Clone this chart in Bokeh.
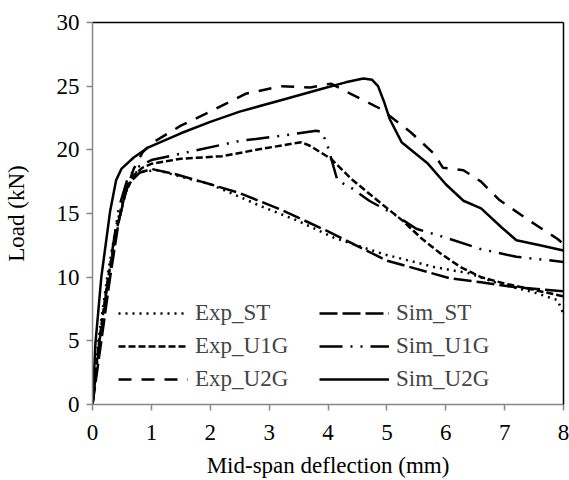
from bokeh.plotting import figure
from bokeh.models import Legend, LegendItem, LinearAxis, FixedTicker, Range1d
from bokeh.embed import file_html
from bokeh.resources import INLINE

# ---- data ----
exp_st_x = [0, 0.1, 0.25, 0.4, 0.55, 0.7, 0.85, 1.1, 1.5, 2.0, 2.4, 2.9, 3.5, 4.1, 4.95, 5.8, 6.4, 6.9, 7.5, 7.9, 8.0]
exp_st_y = [0, 5, 10, 14, 16.5, 18.2, 18.3, 18.4, 17.9, 17.3, 16.5, 15.5, 14.4, 13.1, 11.8, 10.8, 10.3, 9.5, 8.8, 8.2, 7.1]

sim_st_x = [0, 0.15, 0.3, 0.45, 0.6, 0.8, 1.0, 1.4, 2.0, 2.5, 3.2, 4.0, 5.0, 6.08, 6.6, 7.2, 8.0]
sim_st_y = [0, 5, 10, 14.5, 17.3, 18.2, 18.5, 18.1, 17.3, 16.6, 15.3, 13.6, 11.3, 9.9, 9.6, 9.2, 8.9]

exp_u1g_x = [0, 0.1, 0.25, 0.4, 0.55, 0.7, 0.85, 1.0, 1.5, 2.2, 2.9, 3.55, 3.7, 4.05, 4.4, 4.9, 5.25, 5.6, 5.9, 6.25, 6.6, 7.0, 7.5, 8.0]
exp_u1g_y = [0, 4.5, 9.5, 13.5, 16.5, 18.0, 18.6, 18.9, 19.3, 19.5, 20.1, 20.6, 20.3, 19.3, 17.7, 15.8, 14.5, 13.0, 11.9, 10.8, 10.0, 9.5, 9.0, 8.5]

sim_u1g_x = [0, 0.12, 0.3, 0.45, 0.6, 0.75, 1.0, 1.7, 2.5, 3.2, 3.8, 3.9, 4.0, 4.16, 4.4, 4.7, 5.1, 5.5, 6.0, 6.6, 7.2, 8.0]
sim_u1g_y = [0, 5, 11, 15.5, 17.8, 18.6, 19.2, 19.9, 20.7, 21.1, 21.5, 21.4, 20.2, 17.6, 17.0, 16.0, 15.0, 13.8, 13.1, 12.2, 11.6, 11.2]

exp_u2g_x = [0, 0.1, 0.25, 0.4, 0.55, 0.7, 0.85, 1.0, 1.5, 2.0, 2.6, 3.2, 3.7, 4.05, 4.3, 4.9, 5.4, 5.8, 5.95, 6.3, 6.6, 6.9, 7.4, 7.9, 8.0]
exp_u2g_y = [0, 4, 9, 13.5, 16.5, 18.5, 19.8, 20.5, 21.9, 23.0, 24.4, 25.0, 24.9, 25.2, 24.6, 23.2, 21.4, 19.7, 18.6, 18.4, 17.5, 16.1, 14.5, 13.0, 12.6]

sim_u2g_x = [0, 0.05, 0.15, 0.3, 0.4, 0.49, 0.7, 0.95, 1.5, 2.0, 2.5, 3.2, 3.9, 4.3, 4.6, 4.75, 4.85, 4.95, 5.05, 5.25, 5.7, 6.0, 6.3, 6.6, 6.95, 7.2, 7.6, 8.0]
sim_u2g_y = [0, 4.8, 10, 15.2, 17.6, 18.5, 19.4, 20.2, 21.3, 22.2, 23.0, 23.9, 24.8, 25.3, 25.6, 25.5, 25.0, 23.8, 22.4, 20.6, 18.9, 17.3, 16.0, 15.4, 13.9, 12.9, 12.5, 12.1]

x_ticks = [0, 1, 2, 3, 4, 5, 6, 7, 8]
y_ticks = [0, 5, 10, 15, 20, 25, 30]
x_title = "Mid-span deflection (mm)"
y_title = "Load (kN)"

FONT = "Liberation Serif"
AX = "#868686"
FS = "23px"

p = figure(width=569, height=480, x_range=Range1d(0, 8), y_range=Range1d(0, 30),
           output_backend="svg", toolbar_location=None,
           min_border_left=91, min_border_right=6, min_border_top=22, min_border_bottom=76)
p.xgrid.visible = False
p.ygrid.visible = False
p.outline_line_color = None
p.background_fill_color = "white"
p.border_fill_color = "white"

for ax, ticks, title in ((p.xaxis[0], x_ticks, x_title), (p.yaxis[0], y_ticks, y_title)):
    ax.ticker = FixedTicker(ticks=ticks)
    ax.axis_line_color = AX
    ax.axis_line_width = 1.5
    ax.major_tick_line_color = AX
    ax.major_tick_line_width = 1.5
    ax.major_tick_out = 6
    ax.major_tick_in = 0
    ax.minor_tick_line_color = None
    ax.major_label_text_font = FONT
    ax.major_label_text_font_size = FS
    ax.major_label_text_color = "black"
    ax.axis_label = title
    ax.axis_label_text_font = FONT
    ax.axis_label_text_font_size = FS
    ax.axis_label_text_font_style = "normal"
    ax.axis_label_text_color = "black"
p.yaxis[0].major_label_standoff = 7
p.yaxis[0].axis_label_standoff = 25
p.xaxis[0].major_label_standoff = 14
p.xaxis[0].axis_label_standoff = 10

for loc in ("above", "right"):
    a = LinearAxis(ticker=FixedTicker(ticks=[]), axis_line_color="black", axis_line_width=1.5,
                   major_tick_line_color=None, minor_tick_line_color=None)
    p.add_layout(a, loc)

W = 2.5
r1 = p.line(exp_st_x, exp_st_y, line_color="black", line_width=W, line_dash="2 5")
r2 = p.line(exp_u1g_x, exp_u1g_y, line_color="black", line_width=W, line_dash="7 3")
r3 = p.line(exp_u2g_x, exp_u2g_y, line_color="black", line_width=W, line_dash="13 10")
r4 = p.line(sim_st_x, sim_st_y, line_color="black", line_width=W, line_dash="18 5")
r5 = p.line(sim_u1g_x, sim_u1g_y, line_color="black", line_width=W, line_dash="23 8 2 8 2 8")
r6 = p.line(sim_u2g_x, sim_u2g_y, line_color="black", line_width=W)

def make_legend(items, loc):
    return Legend(items=items, location=loc, orientation="vertical",
                  glyph_width=70, glyph_height=20, label_height=20, spacing=7,
                  padding=0, margin=0, border_line_color=None, background_fill_alpha=0,
                  label_text_font=FONT, label_text_font_size=FS, label_standoff=7)

leg1 = make_legend([LegendItem(label="Exp_ST", renderers=[r1]),
                    LegendItem(label="Exp_U1G", renderers=[r2]),
                    LegendItem(label="Exp_U2G", renderers=[r3])], (26, 12))
leg2 = make_legend([LegendItem(label="Sim_ST", renderers=[r4]),
                    LegendItem(label="Sim_U1G", renderers=[r5]),
                    LegendItem(label="Sim_U2G", renderers=[r6])], (227, 12))
p.add_layout(leg1)
p.add_layout(leg2)

open("out.html", "w").write(file_html(p, INLINE))
